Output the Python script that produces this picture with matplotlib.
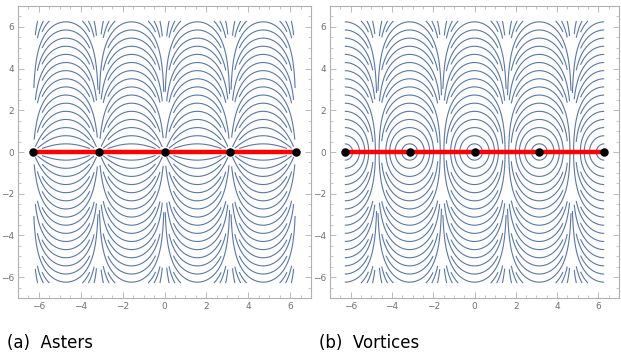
import numpy as np
import matplotlib
matplotlib.use('Agg')
import matplotlib.pyplot as plt
from matplotlib.ticker import MultipleLocator

# defect positions along y = 0 (multiples of pi)
defect_x = [-2 * np.pi, -np.pi, 0.0, np.pi, 2 * np.pi]
defect_y = [0, 0, 0, 0, 0]
ticks = [-6, -4, -2, 0, 2, 4, 6]
captions = ['(a)  Asters', '(b)  Vortices']
# spacing of the drawn field lines, measured at the cell centres
STEP = 0.39
N_LEVELS = 30
MIN_GAP = 0.16   # lines are cut where they crowd closer than this

LINE = '#5a77a8'
FRAME = '#b0b0b0'
TXT = '#707070'

# director angle = arg(sin z): +1 defects at z = n*pi
# aster lines:  sinh(y) = C sin(x);  vortex lines: cosh(y) = C cos(x)
xs = np.linspace(-2 * np.pi, 2 * np.pi, 900)
ys = np.linspace(-2 * np.pi, 2 * np.pi, 900)
X, Y = np.meshgrid(xs, ys)
with np.errstate(divide='ignore', invalid='ignore'):
    G_aster = np.arcsinh(np.sinh(np.abs(Y)) / np.abs(np.sin(X)))
    G_vortex = np.arccosh(np.clip(np.cosh(Y) / np.abs(np.cos(X)), 1, None))


def valuation(k, cap=4):
    m = 0
    while k % 2 == 0 and m < cap:
        k //= 2
        m += 1
    return m


def draw_lines(ax, G):
    # thin out crowded lines: odd levels drop first, then every 2nd, ...
    gy, gx = np.gradient(G, ys, xs)
    grad = np.hypot(gx, gy)
    ks = np.arange(1, N_LEVELS + 1)
    vals = np.array([valuation(k) for k in ks])
    for m in range(5):
        lev = STEP * ks[vals == m]
        if len(lev) == 0:
            continue
        Gm = G.copy()
        Gm[~np.isfinite(grad) | (grad > STEP * 2 ** m / MIN_GAP)] = np.nan
        ax.contour(X, Y, Gm, levels=lev, colors=LINE, linewidths=0.8)


fig = plt.figure(figsize=(6.21, 3.58), dpi=100)
W, H = 621, 358
boxes = [(18, 6, 311, 298), (330, 6, 619, 298)]
fields = [G_aster, G_vortex]

for (l, t, r, b), G, cap in zip(boxes, fields, captions):
    ax = fig.add_axes([l / W, 1 - b / H, (r - l) / W, (b - t) / H])
    draw_lines(ax, G)
    ax.plot([defect_x[0], defect_x[-1]], [0, 0], color='red', lw=3.2,
            solid_capstyle='butt', zorder=3)
    ax.scatter(defect_x, defect_y, s=26, color='black', zorder=4)
    ax.set_xlim(-7, 7)
    ax.set_ylim(-7, 7)
    ax.set_xticks(ticks)
    ax.set_yticks(ticks)
    ax.xaxis.set_minor_locator(MultipleLocator(0.5))
    ax.yaxis.set_minor_locator(MultipleLocator(0.5))
    ax.tick_params(which='both', direction='in', top=True, right=True,
                   color=FRAME, labelcolor=TXT, labelsize=6.5, pad=3)
    ax.tick_params(which='major', length=4, width=0.6)
    ax.tick_params(which='minor', length=2, width=0.5)
    ax.set_xticklabels([f'\u2212{-k}' if k < 0 else str(k) for k in ticks])
    ax.set_yticklabels([f'\u2212{-k}' if k < 0 else str(k) for k in ticks])
    for s in ax.spines.values():
        s.set_color(FRAME)
        s.set_linewidth(0.8)
    fig.text((l - 11) / W, 1 - 343 / H, cap, fontsize=12, ha='left',
             va='center', color='black')

fig.savefig('out.png', dpi=100)
